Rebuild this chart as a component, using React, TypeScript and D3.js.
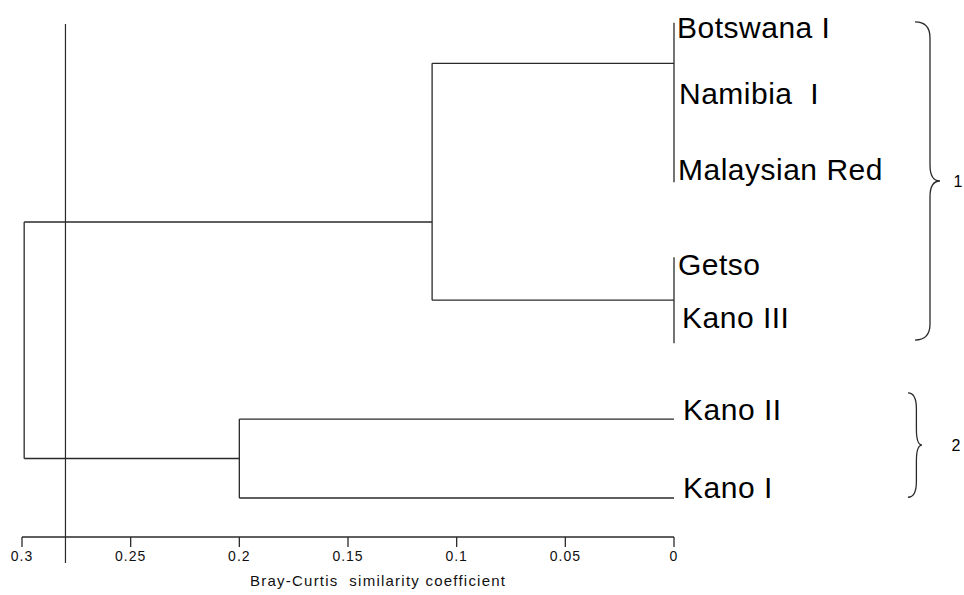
import React from 'react';
import * as d3 from 'd3';

// leaves (top to bottom) and where they sit, in row units
const leaves = ['Botswana I', 'Namibia  I', 'Malaysian Red', 'Getso', 'Kano III', 'Kano II', 'Kano I'];
const labelRows = [0, 0.86, 1.85, 3.09, 3.78, 4.98, 6];
const lineRows = [-0.2, 0.86, 1.88, 2.86, 3.98, 4.97, 6.0];
const labelDx = [3, 5, 4, 4, 8, 9, 9];

// merges: id, children, height (dissimilarity), attach row (null = midpoint)
const clusterIds = ['A', 'B', 'C1', 'C2', 'root'];
const clusterChildren = [
  ['Botswana I', 'Namibia  I', 'Malaysian Red'],
  ['Getso', 'Kano III'],
  ['A', 'B'],
  ['Kano II', 'Kano I'],
  ['C1', 'C2'],
];
const clusterHeights = [0, 0, 0.1113, 0.2, 0.299];
const clusterRows: (number | null)[] = [0.33, 3.42, 2.4, null, null];

const ticks = [0.3, 0.25, 0.2, 0.15, 0.1, 0.05, 0];
const refLine = 0.28;

// bracketed groups
const groupNames = ['1', '2'];
const groupRows = [[-0.21, 3.94], [4.63, 5.99]];

const W = 964;
const H = 595;
const INK = '#2a2a2a';

function brace(x0: number, y0: number, y1: number, w: number) {
  const xi = x0 + w * 0.6;
  const ym = (y0 + y1) / 2;
  const r = Math.min(16, (y1 - y0) / 6);
  return `M${x0},${y0} Q${xi},${y0} ${xi},${y0 + r} L${xi},${ym - r} Q${xi},${ym} ${x0 + w},${ym} ` +
    `Q${xi},${ym} ${xi},${ym + r} L${xi},${y1 - r} Q${xi},${y1} ${x0},${y1}`;
}

export default function App() {
  const x = d3.scaleLinear().domain([0.3, 0]).range([22, 674]);
  const y = d3.scaleLinear().domain([0, 6]).range([38, 498]);
  const axisY = 537;

  const rowOf = new Map<string, number>();
  const heightOf = new Map<string, number>();
  leaves.forEach((l, i) => { rowOf.set(l, lineRows[i]); heightOf.set(l, 0); });

  const segs: { x1: number; y1: number; x2: number; y2: number }[] = [];
  clusterIds.forEach((id, i) => {
    const kids = clusterChildren[i];
    const h = clusterHeights[i];
    const rows = kids.map((k) => rowOf.get(k) as number);
    const [lo, hi] = d3.extent(rows) as [number, number];
    segs.push({ x1: x(h), y1: y(lo), x2: x(h), y2: y(hi) });
    kids.forEach((k) => {
      const kh = heightOf.get(k) as number;
      if (kh !== h) segs.push({ x1: x(h), y1: y(rowOf.get(k) as number), x2: x(kh), y2: y(rowOf.get(k) as number) });
    });
    rowOf.set(id, clusterRows[i] ?? (lo + hi) / 2);
    heightOf.set(id, h);
  });

  const braceX = [915, 908];
  const braceW = [25, 14];
  const braceLabelDx = [18, 34];

  return (
    <svg width={W} height={H} style={{ position: 'absolute', left: 0, top: 0, background: '#fff' }}
      fontFamily="'Liberation Sans', Arial, sans-serif">
      <rect width={W} height={H} fill="#fff" />
      {/* reference line */}
      <line x1={x(refLine)} x2={x(refLine)} y1={24} y2={563} stroke={INK} strokeWidth={1.2} />

      {segs.map((s, i) => (
        <line key={i} x1={s.x1} y1={s.y1} x2={s.x2} y2={s.y2} stroke={INK} strokeWidth={1.3} />
      ))}

      {leaves.map((l, i) => (
        <text key={l} x={x(0) + labelDx[i]} y={y(labelRows[i])} fontSize={30} letterSpacing={0.5} fill="#000"
          style={{ whiteSpace: 'pre' }}>
          {l}
        </text>
      ))}

      {groupNames.map((g, i) => {
        const y0 = y(groupRows[i][0]);
        const y1 = y(groupRows[i][1]);
        return (
          <g key={g}>
            <path d={brace(braceX[i], y0, y1, braceW[i])} fill="none" stroke={INK} strokeWidth={1.3} />
            <text x={braceX[i] + braceW[i] + braceLabelDx[i]} y={(y0 + y1) / 2 + 6} fontSize={16} textAnchor="middle" fill="#000">
              {g}
            </text>
          </g>
        );
      })}

      {/* x axis */}
      <line x1={x(0.3)} x2={x(0)} y1={axisY} y2={axisY} stroke={INK} strokeWidth={1.3} />
      {ticks.map((t) => (
        <g key={t}>
          <line x1={x(t)} x2={x(t)} y1={axisY} y2={axisY + 10} stroke={INK} strokeWidth={1.3} />
          <text x={x(t)} y={axisY + 24} fontSize={14} textAnchor="middle" letterSpacing={1} fill="#111">
            {String(t)}
          </text>
        </g>
      ))}
      <text x={250} y={586} fontSize={15} fill="#111" textLength={255} lengthAdjust="spacing"
        style={{ whiteSpace: 'pre' }}>
        {'Bray-Curtis  similarity coefficient'}
      </text>
    </svg>
  );
}
